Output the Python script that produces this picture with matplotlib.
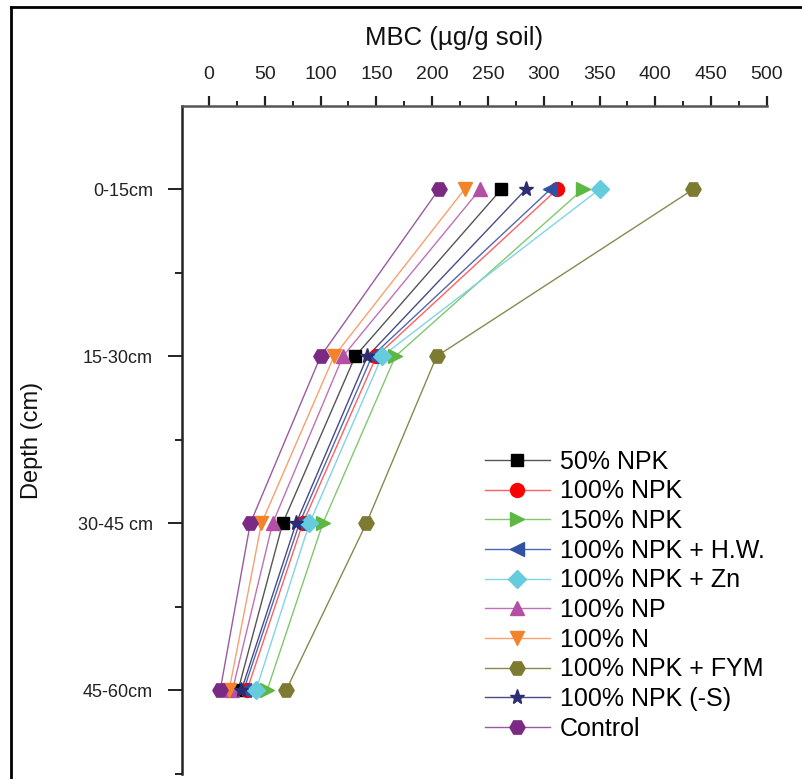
import matplotlib
matplotlib.use("Agg")
import matplotlib.pyplot as plt
from matplotlib.lines import Line2D

plt.rcParams['font.family'] = ['Liberation Sans', 'DejaVu Sans']

depths = ["0-15cm", "15-30cm", "30-45 cm", "45-60cm"]
treatments = ["50% NPK", "100% NPK", "150% NPK", "100% NPK + H.W.",
              "100% NPK + Zn", "100% NP", "100% N", "100% NPK + FYM",
              "100% NPK (-S)", "Control"]
npk50 = [262, 131, 66, 26]
npk100 = [312, 150, 84, 34]
npk150 = [335, 167, 102, 52]
npk_hw = [306, 146, 81, 31]
npk_zn = [350, 155, 90, 42]
np100 = [243, 120, 57, 21]
n100 = [229, 112, 47, 18]
npk_fym = [434, 204, 141, 69]
npk_s = [284, 142, 78, 29]
control = [206, 100, 37, 10]
series = [npk50, npk100, npk150, npk_hw, npk_zn, np100, n100, npk_fym, npk_s, control]

marker_colors = ["#000000", "#ff0000", "#5cb843", "#3351a3", "#66cbdc",
                 "#b44fa6", "#f2832b", "#7d7b32", "#2c2d73", "#7b2a84"]
line_colors = ["#555555", "#ff6060", "#80c870", "#5068b0", "#80d4e4",
               "#c070b8", "#f8a070", "#8a8850", "#4a4a88", "#9a5aa0"]
markers = ["s", "o", ">", "<", "D", "^", "v", "H", "*", "H"]
msizes = [9, 10, 10, 10, 9, 10, 10, 11, 11, 11]

W, H = 802, 779
fig = plt.figure(figsize=(W / 100, H / 100), dpi=100)
ax = fig.add_axes([0.2269, 0.0064, 0.7294, 0.8579])

ypos = list(range(len(depths)))
handles = []
for vals, mc, lc, mk, ms, lab in zip(series, marker_colors, line_colors, markers, msizes, treatments):
    ax.plot(vals, ypos, color=lc, lw=1.0, zorder=2)
    ax.plot(vals, ypos, linestyle="none", marker=mk, markersize=ms,
            markerfacecolor=mc, markeredgecolor=mc, zorder=3)
    handles.append(Line2D([], [], color=lc, lw=1.0, marker=mk, markersize=ms,
                          markerfacecolor=mc, markeredgecolor=mc, label=lab))

ax.set_xlim(-24.2, 500)
ax.set_ylim(3.5, -0.5)

ax.xaxis.tick_top()
ax.set_xticks(range(0, 501, 50))
ax.set_xticks(range(25, 500, 50), minor=True)
ax.set_yticks(ypos)
ax.set_yticklabels(depths)
ax.set_yticks([0.5, 1.5, 2.5, 3.5], minor=True)

for s in ["right", "bottom"]:
    ax.spines[s].set_visible(False)
ax.spines["top"].set_color("#555555")
ax.spines["top"].set_linewidth(1.8)
ax.spines["left"].set_color("#222222")
ax.spines["left"].set_linewidth(1.8)

ax.tick_params(axis="x", which="major", direction="out", length=7, width=1.6,
               colors="#222222", labelsize=14, pad=9)
ax.tick_params(axis="x", which="minor", direction="out", length=3.5, width=1.4,
               colors="#222222")
ax.tick_params(axis="y", which="major", direction="out", length=10, width=1.4,
               colors="#222222", labelsize=13, pad=11)
ax.tick_params(axis="y", which="minor", direction="out", length=5, width=1.4,
               colors="#222222")
for t in ax.get_xticklabels() + ax.get_yticklabels():
    t.set_color("#222222")

fig.text(454 / W, 1 - 38 / H, "MBC (µg/g soil)", fontsize=18.5, color="#111111",
         ha="center", va="center")
fig.text(32 / W, 1 - 440 / H, "Depth (cm)", fontsize=17, color="#111111",
         ha="center", va="center", rotation=90)

leg = fig.legend(handles=handles, loc="lower left", frameon=False, fontsize=18,
                 handlelength=2.6, handletextpad=0.4, labelspacing=0.225,
                 borderpad=0.4, bbox_to_anchor=(462 / W, 16 / H))

# figure border (left and top)
fig.add_artist(Line2D([11 / W, 11 / W], [0, 1 - 7 / H], transform=fig.transFigure,
                      color="black", lw=2))
fig.add_artist(Line2D([11 / W, 1], [1 - 7 / H, 1 - 7 / H], transform=fig.transFigure,
                      color="black", lw=2))

fig.savefig("out.png", dpi=100)
